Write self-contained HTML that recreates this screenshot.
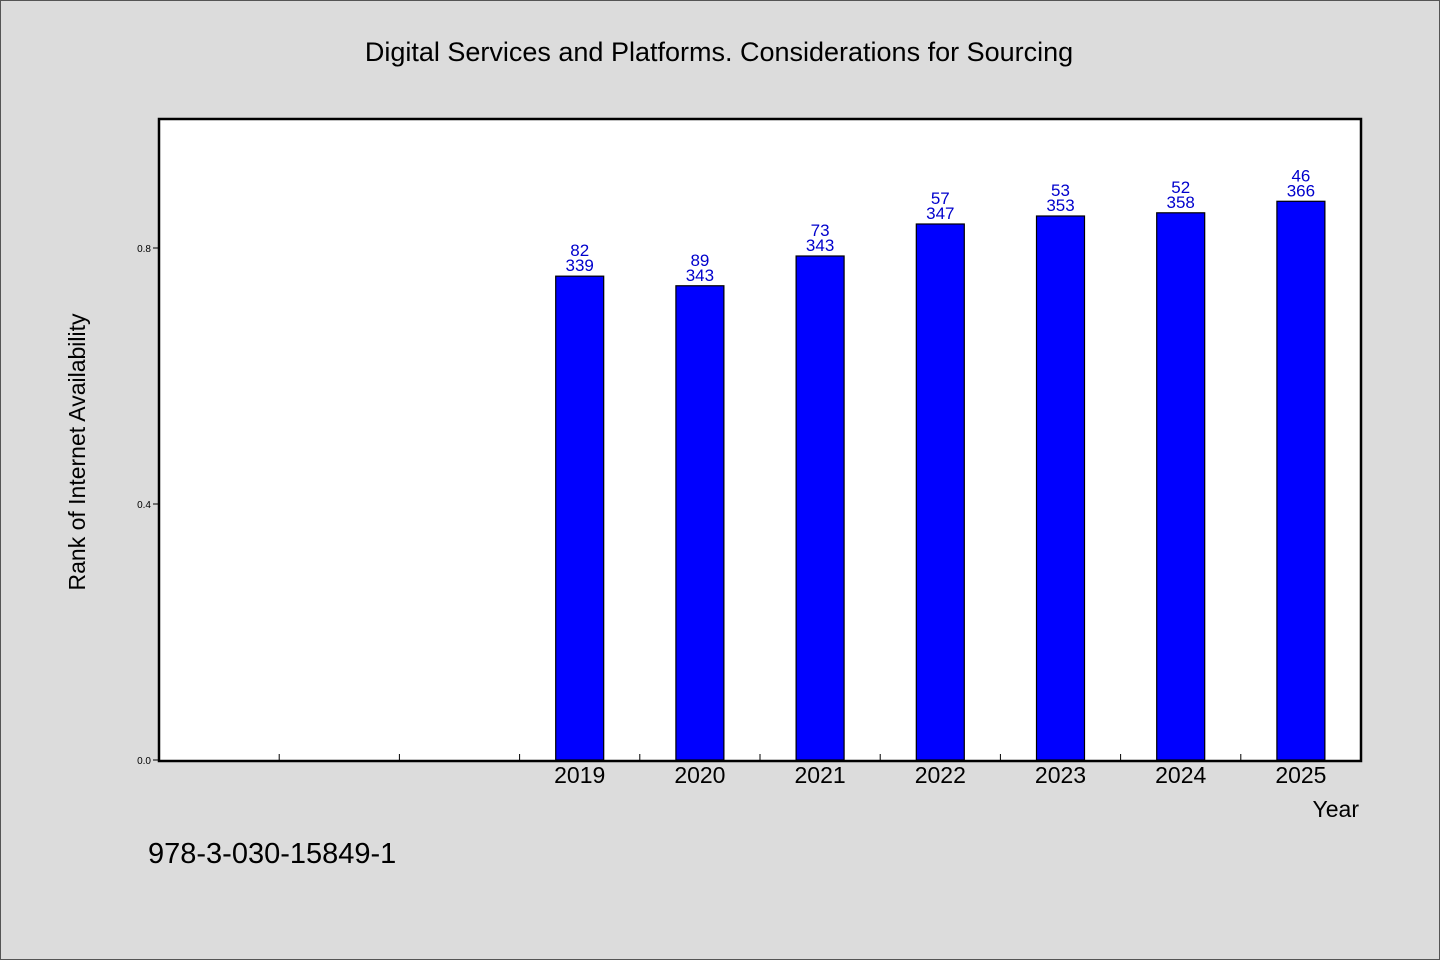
<!DOCTYPE html>
<html><head><meta charset="utf-8"><style>
html,body{margin:0;padding:0;background:#dcdcdc;}
svg{display:block;font-family:"WenQuanYi Zen Hei","Liberation Sans",sans-serif;}
</style></head><body>
<svg id="chart" width="1440" height="960" xmlns="http://www.w3.org/2000/svg">
<rect x="0.5" y="0.5" width="1439" height="959" fill="#dcdcdc" stroke="#555"/>
<text x="719" y="61" text-anchor="middle" font-size="27" fill="#000">Digital Services and Platforms. Considerations for Sourcing</text>
<rect x="159" y="119" width="1202" height="642" fill="#fff"/>
<g id="marks"></g>
<rect x="159" y="119" width="1202" height="642" fill="none" stroke="#000" stroke-width="2.5"/>
<text transform="translate(85,452) rotate(-90)" text-anchor="middle" font-size="23" fill="#000">Rank of Internet Availability</text>
<text x="1359" y="817" text-anchor="end" font-size="23" fill="#000">Year</text>
<text x="148" y="863" font-size="29" fill="#000">978-3-030-15849-1</text>
</svg>
<script>
const categories=["","","","2019","2020","2021","2022","2023","2024","2025"];
const values=[null,null,null,0.756,0.741,0.7875,0.8375,0.85,0.855,0.873];
const topLabels=["","","","82","89","73","57","53","52","46"];
const bottomLabels=["","","","339","343","343","347","353","358","366"];
const yTicks=[0.0,0.4,0.8];
const yTickLabels=["0.0","0.4","0.8"];
const X0=159,W=1202,Y0=760,PH=640,yMax=1.0;
const slot=W/categories.length;
const xPos=i=>X0+slot*(i+0.5);
const yPos=v=>Y0-v/yMax*PH;
const NS="http://www.w3.org/2000/svg";
const g=document.getElementById("marks");
function mk(t,a){const e=document.createElementNS(NS,t);for(const k in a)e.setAttribute(k,a[k]);g.appendChild(e);return e;}
yTicks.forEach((v,i)=>{
  const l=mk("line",{x1:X0-6,x2:X0,y1:yPos(v),y2:yPos(v),stroke:"#000","stroke-width":1});
  
  
  const t=mk("text",{x:X0-8,y:yPos(v)+4,"text-anchor":"end","font-size":10,fill:"#000"});
  t.textContent=yTickLabels[i];
  
  
});
for(let i=1;i<categories.length;i++){
  const x=X0+slot*i;
  const l=mk("line",{x1:x,x2:x,y1:Y0-6,y2:Y0,stroke:"#000","stroke-width":1});
  
  
}
categories.forEach((c,i)=>{
  if(c){
    const t=mk("text",{x:xPos(i),y:783,"text-anchor":"middle","font-size":23,fill:"#000"});
    t.textContent=c;
    
    
  }
  const v=values[i];
  if(v==null)return;
  const top=yPos(v);
  const b=mk("rect",{x:xPos(i)-24,y:top,width:48,height:Y0-top,fill:"#0000ff",stroke:"#000","stroke-width":1.2});
  
  
  const t1=mk("text",{x:xPos(i),y:top-20,"text-anchor":"middle","font-size":17,fill:"#0000cc"});
  t1.textContent=topLabels[i];
  
  
  const t2=mk("text",{x:xPos(i),y:top-5,"text-anchor":"middle","font-size":17,fill:"#0000cc"});
  t2.textContent=bottomLabels[i];
  
  
});
</script>
</body></html>
